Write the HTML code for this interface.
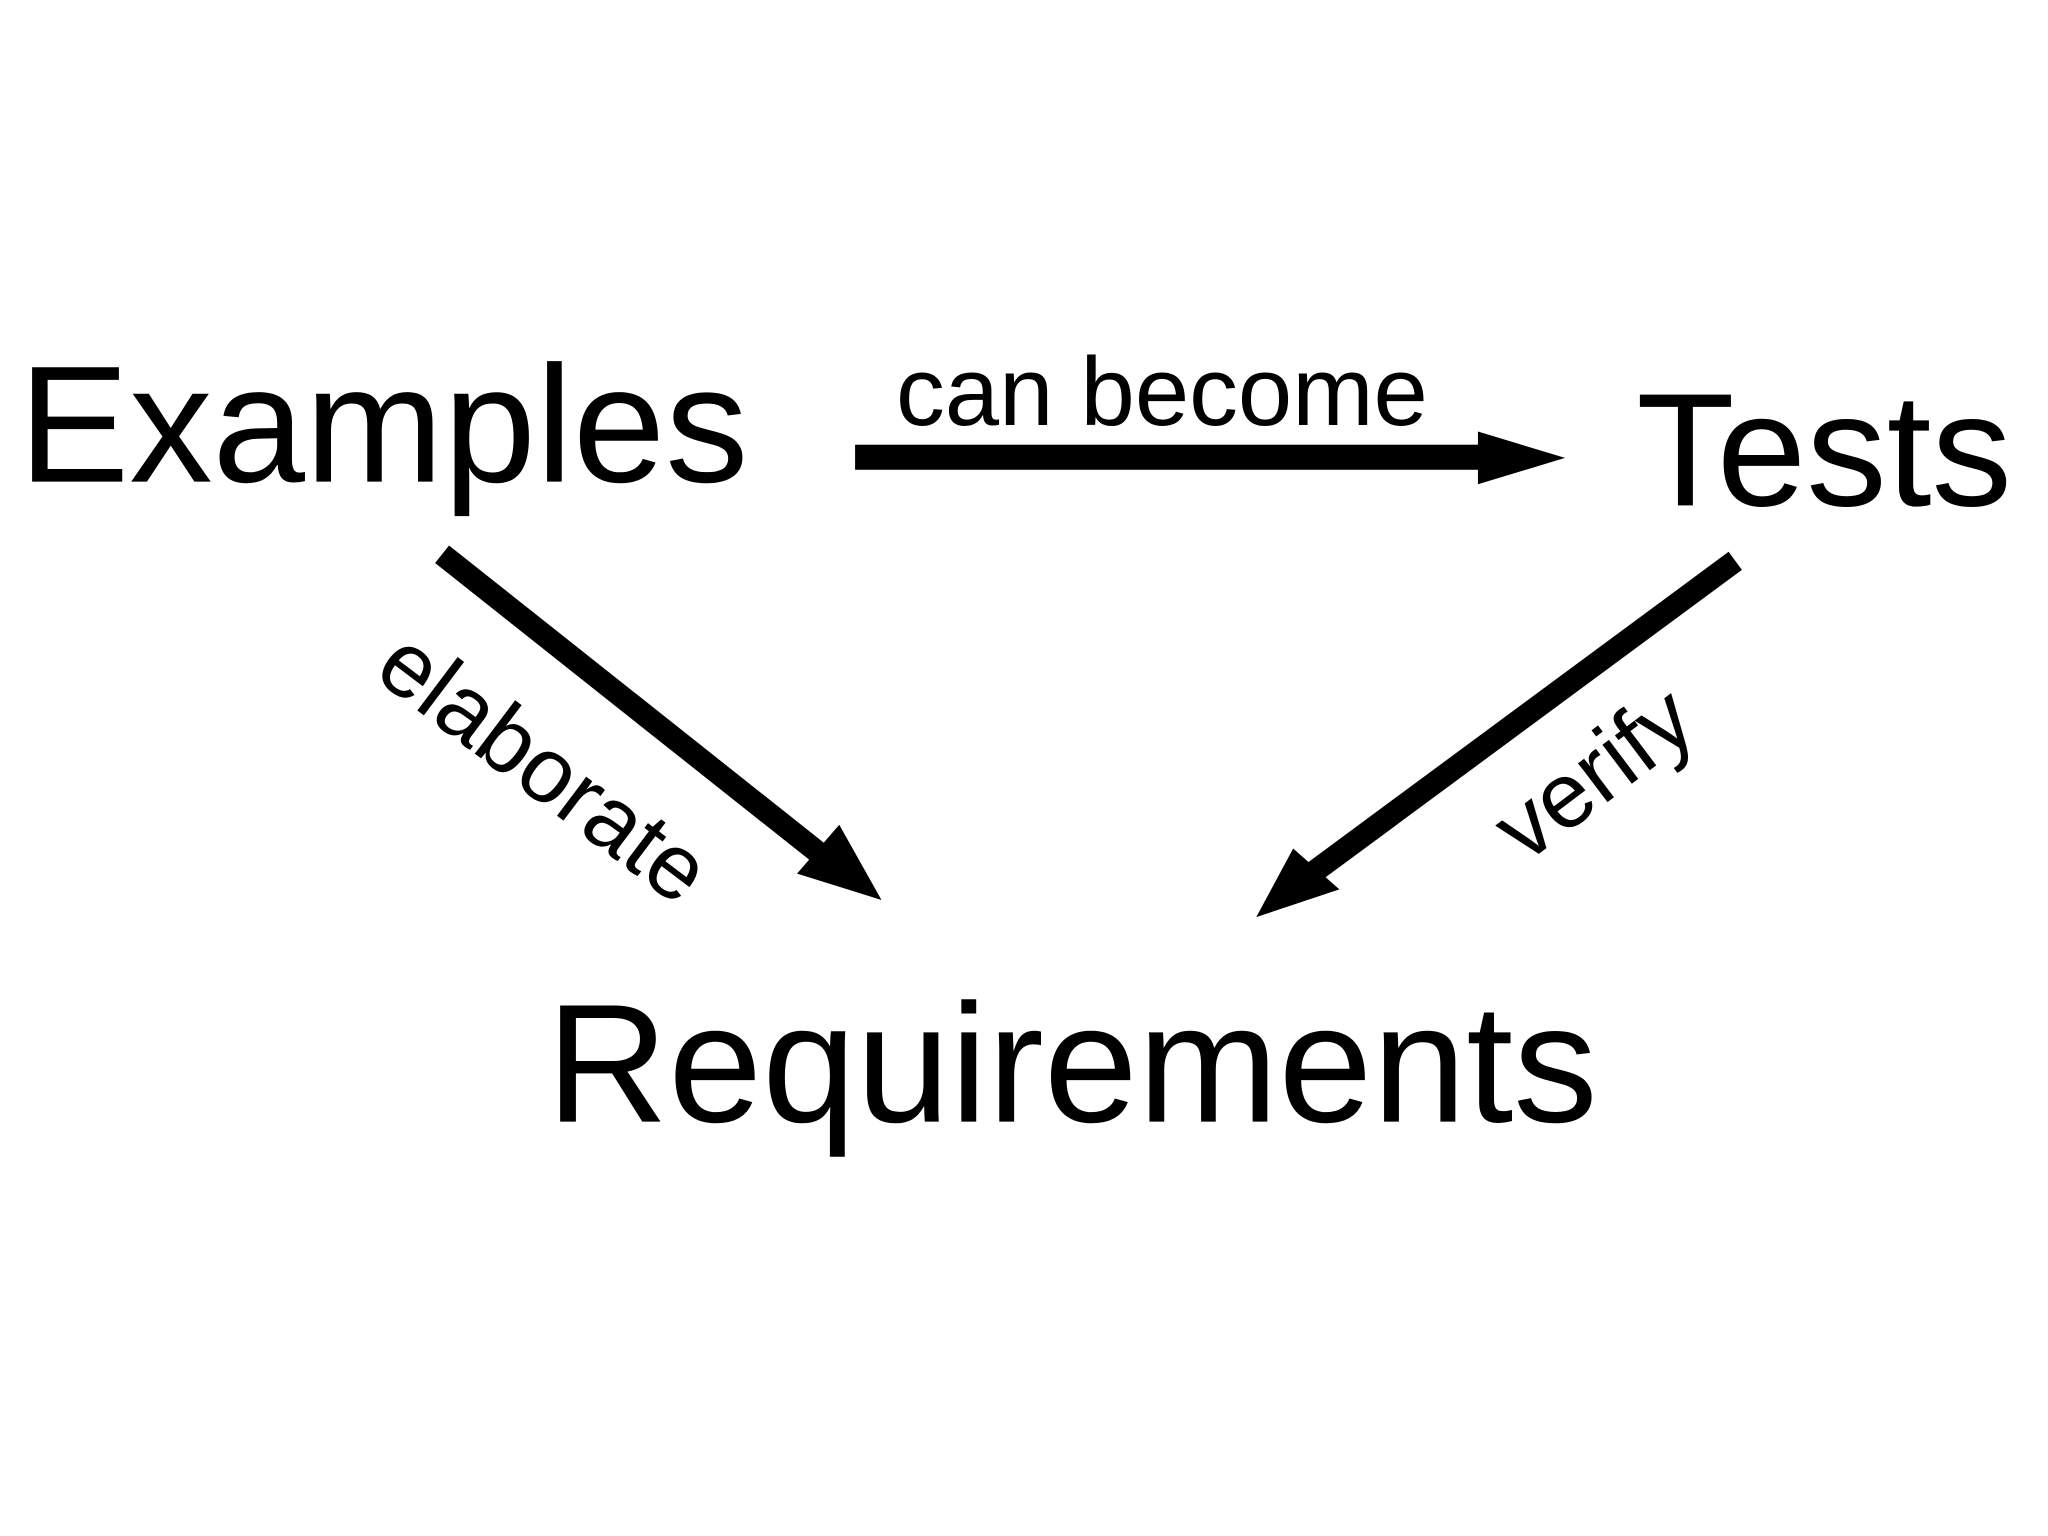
<!DOCTYPE html>
<html><head><style>html,body{margin:0;padding:0;background:#fff;width:2048px;height:1536px;overflow:hidden}</style></head>
<body>
<svg width="2048" height="1536" viewBox="0 0 1552 1164" xmlns="http://www.w3.org/2000/svg" font-family="Liberation Sans, sans-serif">
<rect width="1552" height="1164" fill="#fff"/>
<text x="14" y="365" font-size="126">Examples</text>
<text x="679" y="322" font-size="74">can become</text>
<text x="1240" y="383" font-size="122">Tests</text>
<text x="414" y="850" font-size="128">Requirements</text>
<rect x="648" y="337" width="476" height="19" fill="#000"/>
<polygon points="1120,327 1186,347 1120,367" fill="#000"/>
<line x1="335" y1="420" x2="625" y2="650" stroke="#000" stroke-width="17"/>
<polygon points="604,662 668,682 636,625" fill="#000"/>
<line x1="1315" y1="425" x2="990" y2="665" stroke="#000" stroke-width="17"/>
<polygon points="980,643 952,695 1015,674" fill="#000"/>
<text x="0" y="0" font-size="70" text-anchor="middle" transform="translate(398,600) rotate(37)">elaborate</text>
<text x="0" y="0" font-size="70" text-anchor="middle" transform="translate(1222,605) rotate(-37)">verify</text>
</svg>
</body></html>
